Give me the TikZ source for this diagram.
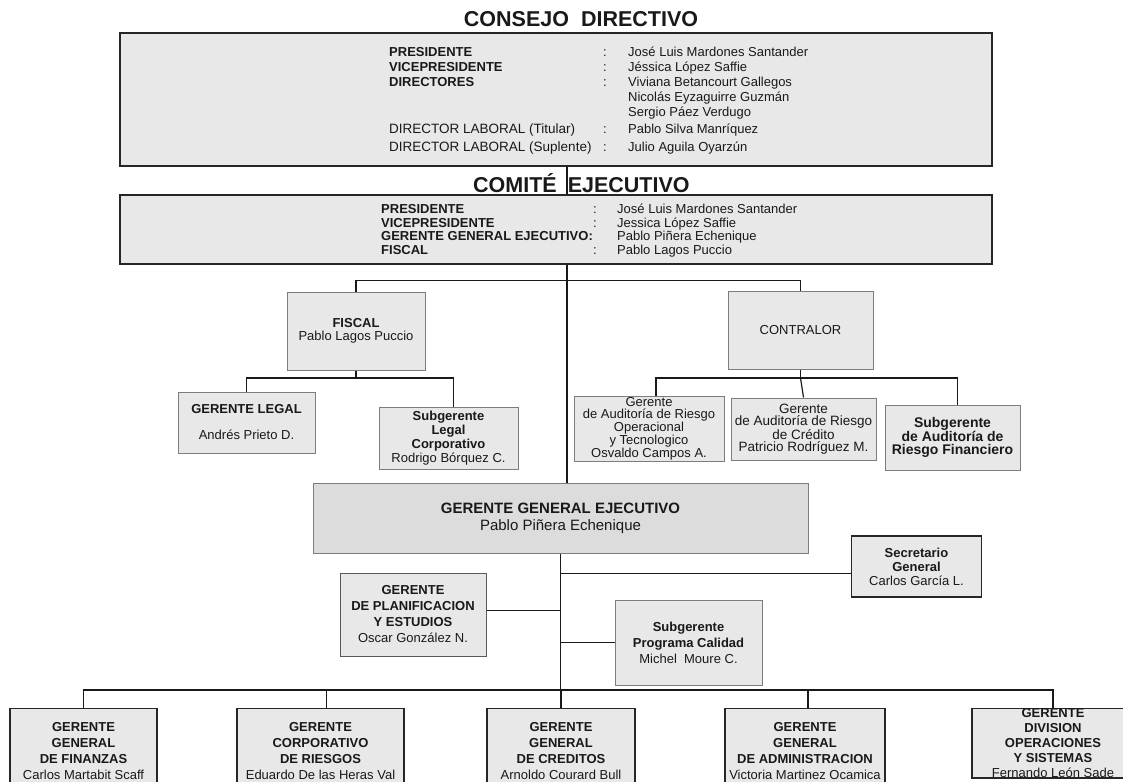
\documentclass[tikz,border=0pt]{standalone}
\usepackage{fontspec}
\setmainfont{Liberation Sans}
\usepackage{array}
\definecolor{boxgray}{RGB}{232,232,232}
\definecolor{ggegray}{RGB}{220,220,220}
\definecolor{edgegray}{RGB}{125,125,125}

\begin{document}
\begin{tikzpicture}[x=1pt, y=-1pt,
  every node/.style={font=\fontsize{13}{14}\selectfont, text=black!90},
  title/.style={inner sep=0pt, font=\bfseries\fontsize{21.5}{24}\selectfont},
  bigbox/.style={draw=black!85, line width=1.4pt, fill=boxgray, inner sep=0pt},
  orgbox/.style={draw=edgegray, line width=1pt, fill=boxgray, align=center, inner sep=1pt},
  darkbox/.style={draw=black!85, line width=1.3pt, fill=boxgray, align=center, inner sep=1pt},
  link/.style={line width=1.2pt, black!90}]
\useasboundingbox (0,0) rectangle (1123,781);
\clip (0,0) rectangle (1123,781);

% Consejo directivo
\node[title] (consejo_tit) at (581,19) {CONSEJO\hspace{12pt}DIRECTIVO};
\node[bigbox, minimum width=872pt, minimum height=133pt] (consejo) at (556,99.5) {};
\node[anchor=base west, inner sep=0pt, font=\fontsize{13}{15}\selectfont] (consejo_txt) at (389,56.7) {%
\begin{tabular}[t]{@{}p{214pt}@{}p{25pt}@{}l@{}}
\textbf{PRESIDENTE} & : & José Luis Mardones Santander\\
\textbf{VICEPRESIDENTE} & : & Jéssica López Saffie\\
\textbf{DIRECTORES} & : & Viviana Betancourt Gallegos\\
 & & Nicolás Eyzaguirre Guzmán\\
 & & Sergio Páez Verdugo\\[2pt]
{\fontsize{13.5}{15}\selectfont DIRECTOR LABORAL (Titular)} & : & Pablo Silva Manríquez\\[3pt]
{\fontsize{13.5}{15}\selectfont DIRECTOR LABORAL (Suplente)} & : & Julio Aguila Oyarzún
\end{tabular}};

% Comite ejecutivo
\node[title, anchor=west] (comite_tit) at (473,183) {COMITÉ\hspace{11pt}EJECUTIVO};
\node[bigbox, minimum width=872pt, minimum height=69pt] (comite) at (556,229.5) {};
\node[anchor=base west, inner sep=0pt, font=\fontsize{13}{13.3}\selectfont] (comite_txt) at (381,213.7) {%
\begin{tabular}[t]{@{}p{212pt}@{}p{24pt}@{}l@{}}
\textbf{PRESIDENTE} & : & José Luis Mardones Santander\\
\textbf{VICEPRESIDENTE} & : & Jessica López Saffie\\
\textbf{GERENTE GENERAL EJECUTIVO:} & & Pablo Piñera Echenique\\
\textbf{FISCAL} & : & Pablo Lagos Puccio
\end{tabular}};

% Fiscal and contralor
\node[orgbox, minimum width=138pt, minimum height=78pt, font=\fontsize{13}{12.5}\selectfont] (fiscal) at (356,331) {\textbf{FISCAL}\\Pablo Lagos Puccio};
\node[orgbox, minimum width=145pt, minimum height=78pt] (contralor) at (800.5,330) {CONTRALOR};

% Legal
\node[orgbox, minimum width=137pt, minimum height=61pt] (ger_legal) at (246.5,422.5) {\textbf{GERENTE LEGAL}\\[12pt]Andrés Prieto D.};
\node[orgbox, minimum width=139pt, minimum height=62pt] (sub_legal) at (448.5,438) {\textbf{Subgerente}\\\textbf{Legal}\\\textbf{Corporativo}\\Rodrigo Bórquez C.};

% Auditoria
\node[orgbox, minimum width=150pt, minimum height=62pt, font=\fontsize{13}{11.3}\selectfont] (aud_oper) at (649,429) {Gerente\\de Auditoría de Riesgo\\Operacional\\y Tecnologico\\Osvaldo Campos A.};
\node[orgbox, minimum width=145pt, minimum height=62pt, font=\fontsize{13.5}{12}\selectfont] (aud_cred) at (803.5,429) {Gerente\\de Auditoría de Riesgo\\de Crédito\\Patricio Rodríguez M.};
\node[orgbox, minimum width=135pt, minimum height=65pt, font=\bfseries\fontsize{14}{12.5}\selectfont] (aud_fin) at (952.5,437.5) {Subgerente\\de Auditoría de\\Riesgo Financiero};

% Gerente general ejecutivo
\node[orgbox, fill=ggegray, minimum width=495pt, minimum height=70pt, font=\fontsize{15}{17}\selectfont] (gge) at (560.5,518) {\textbf{GERENTE GENERAL EJECUTIVO}\\Pablo Piñera Echenique};
\node[darkbox, minimum width=130pt, minimum height=61pt] (sec_gen) at (916.5,566.5) {\textbf{Secretario}\\\textbf{General}\\Carlos García L.};
\node[orgbox, draw=black!65, minimum width=146pt, minimum height=83pt, font=\fontsize{13}{16}\selectfont] (plan) at (413,614.5) {\textbf{GERENTE}\\\textbf{DE PLANIFICACION}\\\textbf{Y ESTUDIOS}\\Oscar González N.};
\node[orgbox, minimum width=147pt, minimum height=85pt, font=\fontsize{13}{16}\selectfont] (calidad) at (688.5,642.5) {\textbf{Subgerente}\\\textbf{Programa Calidad}\\Michel\ \ Moure C.};

% Gerencias
\node[darkbox, anchor=north, minimum width=147pt, minimum height=85pt, font=\fontsize{13}{16}\selectfont] (ger_fin) at (83.5,708) {\textbf{GERENTE}\\\textbf{GENERAL}\\\textbf{DE FINANZAS}\\Carlos Martabit Scaff};
\node[darkbox, anchor=north, minimum width=167pt, minimum height=85pt, font=\fontsize{13}{16}\selectfont] (ger_rie) at (320.5,708) {\textbf{GERENTE}\\\textbf{CORPORATIVO}\\\textbf{DE RIESGOS}\\Eduardo De las Heras Val};
\node[darkbox, anchor=north, minimum width=148pt, minimum height=85pt, font=\fontsize{13}{16}\selectfont] (ger_cre) at (561,708) {\textbf{GERENTE}\\\textbf{GENERAL}\\\textbf{DE CREDITOS}\\Arnoldo Courard Bull};
\node[darkbox, anchor=north, minimum width=160pt, minimum height=85pt, font=\fontsize{13}{16}\selectfont] (ger_adm) at (805,708) {\textbf{GERENTE}\\\textbf{GENERAL}\\\textbf{DE ADMINISTRACION}\\Victoria Martinez Ocamica};
\node[darkbox, anchor=north, inner ysep=0pt, minimum width=162pt, font=\fontsize{13}{15}\selectfont] (div_ops) at (1053,708) {\textbf{GERENTE}\\\textbf{DIVISION}\\\textbf{OPERACIONES}\\\textbf{Y SISTEMAS}\\Fernando León Sade};

% Lines
\coordinate (trunk) at (567,0);
\draw[link] (consejo.south -| trunk) -- (comite.north -| trunk);
\draw[link] (comite.south -| trunk) -- (gge.north -| trunk);
\draw[link] (fiscal.north) -- ++(0,-11) -| (contralor.north);

\coordinate (fis_bar) at (fiscal.south |- 0,378);
\draw[link] (fiscal.south) -- (fis_bar);
\draw[link] (ger_legal.north) |- (fis_bar) -| ([xshift=5pt]sub_legal.north);

\coordinate (con_bar) at (contralor.south |- 0,378);
\draw[link] (contralor.south) -- (con_bar);
\draw[link] ([xshift=7pt]aud_oper.north) |- (con_bar) -| ([xshift=5pt]aud_fin.north);
\draw[link] (con_bar) -- (aud_cred.north);

\coordinate (bar) at (gge.south |- 0,690);
\draw[link] (gge.south) -- (bar);
\draw[link] ([yshift=-7pt]sec_gen.west) -- ([yshift=-7pt]sec_gen.west -| gge.south);
\draw[link] ([yshift=4pt]plan.east) -- ([yshift=4pt]plan.east -| gge.south);
\draw[link] (calidad.west) -- (calidad.west -| gge.south);
\draw[link] (ger_fin.north) |- (bar) -| (div_ops.north);
\draw[link] ([xshift=6pt]ger_rie.north) -- ([xshift=6pt]ger_rie.north |- bar);
\draw[link] (ger_cre.north) -- (ger_cre.north |- bar);
\draw[link] ([xshift=3pt]ger_adm.north) -- ([xshift=3pt]ger_adm.north |- bar);
\end{tikzpicture}
\end{document}
